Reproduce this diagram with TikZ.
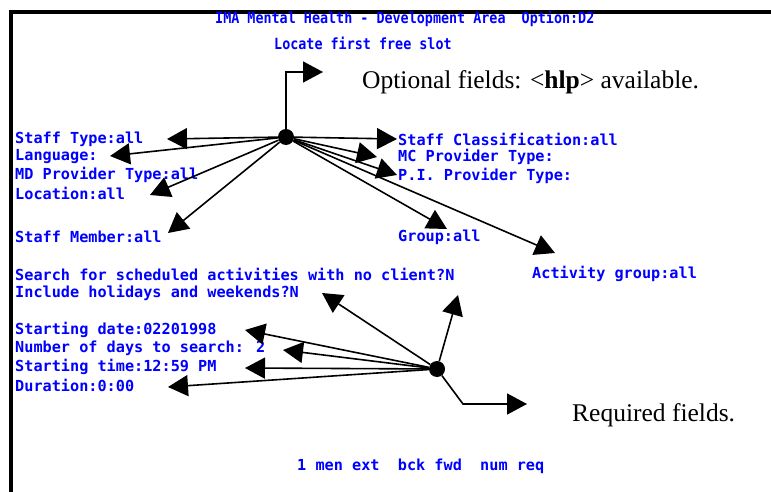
\documentclass[tikz,border=0pt]{standalone}
\usepackage{fontspec}
\setmainfont{Liberation Serif}
\newfontfamily\termfont{DejaVu Sans Mono}
\usetikzlibrary{arrows.meta}
\definecolor{termblue}{RGB}{0,0,255}
\tikzset{
  field/.style={anchor=west, inner sep=0pt, text=termblue,
    font=\termfont\bfseries\fontsize{15.2}{17}\selectfont},
  title/.style={anchor=west, inner sep=0pt, text=termblue,
    font=\termfont\bfseries\fontsize{13.4}{15}\selectfont,
    yscale=1.15, transform shape},
  note/.style={anchor=west, inner sep=0pt, font=\fontsize{25.5}{28}\selectfont},
  hub/.style={circle, fill=black, inner sep=0pt, minimum size=16pt},
  pointer/.style={line width=1.6pt, -{Triangle[length=20pt,width=21pt]}},
}
\begin{document}
\begin{tikzpicture}[x=1pt,y=-1pt]
\useasboundingbox (0,0) rectangle (771,492);
% screen frame (only the top and left edges are in view)
\draw[line width=4pt] (11,492) -- (11,12) -- (771,12);

% screen header
\node[title] (head1) at (215,19) {IMA Mental Health - Development Area\ \ Option:D2};
\node[title] (head2) at (274,43) {Locate first free slot};

% optional fields
\node[field] (stype)  at (15,139) {Staff Type:all};
\node[field] (lang)   at (15,157) {Language:};
\node[field] (mdprov) at (15,175) {MD Provider Type:all};
\node[field] (loc)    at (15,193) {Location:all};
\node[field] (smem)   at (15,237) {Staff Member:all};
\node[field] (sclass) at (398,139) {Staff Classification:all};
\node[field] (mcprov) at (398,157) {MC Provider Type:};
\node[field] (piprov) at (398,176) {P.I. Provider Type:};
\node[field] (grp)    at (398,237) {Group:all};

% required fields
\node[field] (noclient) at (15,274) {Search for scheduled activities with no client?N};
\node[field] (actgrp)   at (532,274) {Activity group:all};
\node[field] (holid)    at (15,293) {Include holidays and weekends?N};
\node[field] (sdate)    at (15,330) {Starting date:02201998};
\node[field] (ndays)    at (15,348) {Number of days to search: 2};
\node[field] (stime)    at (15,367) {Starting time:12:59 PM};
\node[field] (dur)      at (15,385) {Duration:0:00};

% function key line
\node[field] (keys) at (297,466) {1 men ext\ \ bck fwd\ \ num req};

% legends
\node[note] (optnote) at (362,82) {Optional fields: <\textbf{hlp}> available.};
\node[note] (reqnote) at (572,415) {Required fields.};

% hubs
\node[hub] (hubA) at (286,137) {};
\node[hub] (hubB) at (437,369) {};

% arrow tips beside the fields
\coordinate (tOpt)    at (323,72);
\coordinate (tStype)  at (167,139);
\coordinate (tLang)   at (110,156);
\coordinate (tMd)     at (150,195);
\coordinate (tSmem)   at (168,233);
\coordinate (tSclass) at (397,139);
\coordinate (tMc)     at (377,157);
\coordinate (tPi)     at (397,175);
\coordinate (tGrp)    at (447,229);
\coordinate (tAct)    at (555,253);

\coordinate (tHol)    at (322,293);
\coordinate (tCli)    at (458,295);
\coordinate (tSdate)  at (245,330);
\coordinate (tNdays)  at (283,350);
\coordinate (tStime)  at (245,368);
\coordinate (tDur)    at (168,387);
\coordinate (bendB)   at (463,404);
\coordinate (tReq)    at (527,404);

% pointers from the optional-field hub
\draw[pointer] (hubA) |- (tOpt);
\foreach \t in {tStype,tLang,tMd,tSmem,tSclass,tMc,tPi,tGrp,tAct}
  \draw[pointer] (hubA) -- (\t);

% pointers from the required-field hub
\foreach \t in {tHol,tCli,tSdate,tNdays,tStime,tDur}
  \draw[pointer] (hubB) -- (\t);
\draw[pointer] (hubB) -- (bendB) -- (tReq);
\end{tikzpicture}
\end{document}
